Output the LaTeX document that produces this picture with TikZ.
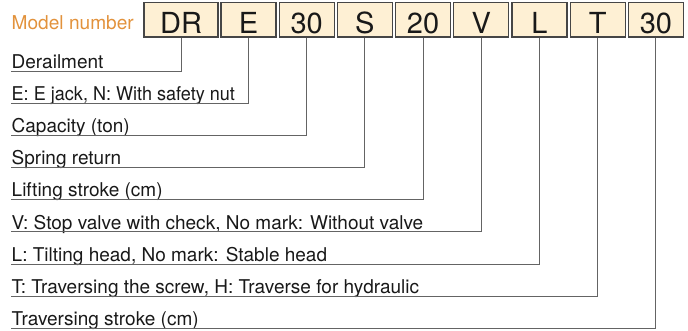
\documentclass[tikz,border=0pt]{standalone}
\usepackage{fontspec}
\setmainfont{TeX Gyre Heros}
\definecolor{boxfill}{RGB}{254,240,212}
\definecolor{boxedge}{RGB}{70,70,70}
\definecolor{leader}{RGB}{100,100,100}
\definecolor{titleorange}{RGB}{226,146,60}
\definecolor{txt}{RGB}{25,25,25}
\tikzset{
  codebox/.style={draw=boxedge, line width=1.2pt, fill=boxfill, minimum height=34.5pt, minimum width=55pt, inner sep=0pt, text=txt},
  codetext/.style={anchor=base, inner sep=0pt, text=txt, font=\fontsize{29}{31}\selectfont},
  desc/.style={anchor=base west, inner sep=0pt, text=txt, font=\fontsize{19}{21}\selectfont},
  leaderline/.style={draw=leader, line width=1pt}
}
\begin{document}
\begin{tikzpicture}[x=1pt,y=-1pt]
\useasboundingbox (0,0) rectangle (688,331);
% title
\node[anchor=base west, inner sep=0pt, text=titleorange, font=\fontsize{19.1}{21}\selectfont] (title) at (11.5,29.3) {Model number};
% code boxes
\node[codebox, minimum width=74pt] (b1) at (181,19.8) {};
\node[codebox] (b2) at (248.5,19.8) {};
\node[codebox] (b3) at (306.7,19.8) {};
\node[codebox] (b4) at (364.9,19.8) {};
\node[codebox] (b5) at (423.1,19.8) {};
\node[codebox] (b6) at (481.3,19.8) {};
\node[codebox] (b7) at (539.5,19.8) {};
\node[codebox] (b8) at (597.7,19.8) {};
\node[codebox] (b9) at (655.9,19.8) {};
\foreach \n/\t in {b1/DR,b2/E,b3/30,b4/S,b5/20,b6/V,b7/L,b8/T,b9/30}
  \node[codetext] (\n t) at (\n.center |- 0,33.3) {\t};
% descriptions
\node[desc] (d1) at (11.5,68.4) {Derailment};
\node[desc] (d2) at (11.5,100.5) {\scalebox{0.95}[1]{E: E jack, N: With safety nut}};
\node[desc] (d3) at (11.5,132.7) {Capacity (ton)};
\node[desc] (d4) at (11.5,164.8) {Spring return};
\node[desc] (d5) at (11.5,197.0) {Lifting stroke (cm)};
\node[desc] (d6) at (11.5,229.1) {V: Stop valve with check, No mark: Without valve};
\node[desc] (d7) at (11.5,261.3) {L: Tilting head, No mark: Stable head};
\node[desc] (d8) at (11.5,293.4) {T: Traversing the screw, H: Traverse for hydraulic};
\node[desc] (d9) at (11.5,325.6) {Traversing stroke (cm)};
% leader end points
\coordinate (e1) at (10.5,71.2);
\coordinate (e2) at (10.5,103.3);
\coordinate (e3) at (10.5,135.5);
\coordinate (e4) at (10.5,167.6);
\coordinate (e5) at (10.5,199.8);
\coordinate (e6) at (10.5,231.9);
\coordinate (e7) at (10.5,264.1);
\coordinate (e8) at (10.5,296.2);
\coordinate (e9) at (10.5,328.4);
\foreach \i in {1,...,9}
  \draw[leaderline] (b\i.south) |- (e\i);
\end{tikzpicture}
\end{document}
